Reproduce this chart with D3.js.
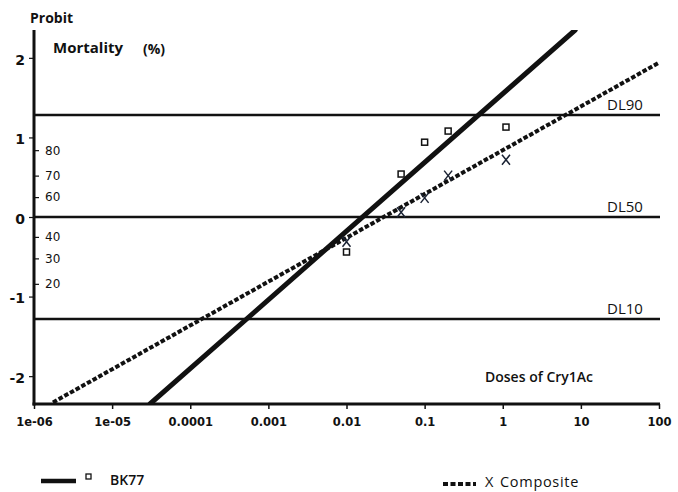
<!DOCTYPE html>
<html>
<head>
<meta charset="utf-8">
<script src="https://cdn.jsdelivr.net/npm/d3@7"></script>
<style>
  body { margin: 0; background: #fff; }
  svg { display: block; }
</style>
</head>
<body>
<div id="chart"></div>
<script>
// probit regression of mortality vs dose of Cry1Ac
const doses = [0.01, 0.05, 0.1, 0.2, 1.1]
const bk77Probit = [-0.44, 0.54, 0.94, 1.08, 1.13]
const compositeProbit = [-0.31, 0.06, 0.24, 0.52, 0.72]

// fitted lines, as [dose, probit] end points
const bk77Line = [[3.05e-5, -2.35], [8.45, 2.35]]
const compositeLine = [[1.75e-6, -2.33], [100, 1.94]]

const xTicks = [1e-6, 1e-5, 1e-4, 1e-3, 1e-2, 1e-1, 1, 10, 100]
const xTickLabels = ['1e-06', '1e-05', '0.0001', '0.001', '0.01', '0.1', '1', '10', '100']
const yTicks = [-2, -1, 0, 1, 2]
const pctLabels = ['20', '30', '40', '60', '70', '80']
const pctProbit = [-0.84, -0.52, -0.25, 0.25, 0.52, 0.84]
const dlNames = ['DL90', 'DL50', 'DL10']
const dlProbit = [1.2816, 0, -1.2816]

const W = 678, H = 492
const ink = '#111'

const svg = d3.select('#chart').append('svg')
  .attr('width', W).attr('height', H)

const x = d3.scaleLog().domain([1e-6, 100]).range([34, 659])
const y = d3.scaleLinear().domain([-2.35, 2.35]).range([404, 30])

svg.append('clipPath').attr('id', 'plot')
  .append('rect')
  .attr('x', x.range()[0]).attr('y', y.range()[1])
  .attr('width', x.range()[1] - x.range()[0] + 2)
  .attr('height', y.range()[0] - y.range()[1])

// DL reference lines
svg.selectAll('.dl')
  .data(dlProbit)
  .enter()
  .append('line')
  .attr('x1', x.range()[0]).attr('x2', 660)
  .attr('y1', (d) => y(d)).attr('y2', (d) => y(d))
  .attr('stroke', ink).attr('stroke-width', 2.6)

svg.selectAll('.dlLabel')
  .data(dlNames)
  .enter()
  .append('text')
  .attr('x', 607)
  .attr('y', (d, i) => y(dlProbit[i]) - 5)
  .attr('font-family', 'Open Sans')
  .attr('font-size', 15)
  .attr('fill', ink)
  .text((d) => d)

// regression lines
const line = d3.line().x((d) => x(d[0])).y((d) => y(d[1]))
const lines = svg.append('g').attr('clip-path', 'url(#plot)')
lines.append('path')
  .attr('d', line(bk77Line))
  .attr('fill', 'none').attr('stroke', ink).attr('stroke-width', 5)
  .attr('stroke-linecap', 'round')
lines.append('path')
  .attr('d', line(compositeLine))
  .attr('fill', 'none').attr('stroke', ink).attr('stroke-width', 4)
  .attr('stroke-dasharray', '4.5,2')

// markers
svg.selectAll('.sq')
  .data(doses)
  .enter()
  .append('rect')
  .attr('x', (d) => x(d) - 3)
  .attr('y', (d, i) => y(bk77Probit[i]) - 3)
  .attr('width', 6).attr('height', 6)
  .attr('fill', 'none').attr('stroke', ink).attr('stroke-width', 1.5)

svg.selectAll('.xm')
  .data(doses)
  .enter()
  .append('path')
  .attr('d', (d, i) => {
    const cx = x(d), cy = y(compositeProbit[i])
    return `M${cx - 4},${cy - 5}L${cx + 4},${cy + 5}M${cx + 4},${cy - 5}L${cx - 4},${cy + 5}`
  })
  .attr('fill', 'none').attr('stroke', '#1a2233').attr('stroke-width', 1.5)

// axes
const xAxis = svg.append('g')
  .attr('transform', `translate(0,${y.range()[0]})`)
  .call(d3.axisBottom(x).tickValues(xTicks).tickSize(5).tickSizeOuter(0)
    .tickPadding(9).tickFormat((d, i) => xTickLabels[i]))
xAxis.select('.domain').attr('stroke', ink).attr('stroke-width', 3)
  .attr('d', `M${x.range()[0] - 1.5},0H${x.range()[1] + 1}`)
xAxis.selectAll('.tick line').attr('stroke', ink).attr('stroke-width', 1.5)
xAxis.selectAll('text')
  .attr('font-family', 'DejaVu Sans').attr('font-weight', 'bold')
  .attr('font-size', 11.5).attr('fill', ink)

const yAxis = svg.append('g')
  .attr('transform', `translate(${x.range()[0]},0)`)
  .call(d3.axisLeft(y).tickValues(yTicks).tickSize(5).tickSizeOuter(0)
    .tickPadding(4).tickFormat(d3.format('d')))
yAxis.select('.domain').attr('stroke', ink).attr('stroke-width', 3)
  .attr('d', `M0,${y.range()[1]}V${y.range()[0] + 1.5}`)
yAxis.selectAll('.tick line').attr('stroke', ink).attr('stroke-width', 1.2)
yAxis.selectAll('text')
  .attr('font-family', 'DejaVu Sans').attr('font-weight', 'bold')
  .attr('font-size', 14).attr('fill', ink).attr('dy', '0.45em')
  .text((d) => (d < 0 ? '-' + Math.abs(d) : d))

// percent mortality ticks inside the axis
const pctAxis = svg.append('g')
  .attr('transform', `translate(${x.range()[0]},0)`)
  .call(d3.axisRight(y).tickValues(pctProbit).tickSize(5).tickSizeOuter(0)
    .tickPadding(6).tickFormat((d, i) => pctLabels[i]))
pctAxis.select('.domain').remove()
pctAxis.selectAll('.tick line').attr('stroke', ink).attr('stroke-width', 1.2)
pctAxis.selectAll('text')
  .attr('font-family', 'DejaVu Sans').attr('font-size', 12).attr('fill', ink)

// titles
const label = (tx, ty, s, size, weight) =>
  svg.append('text').attr('x', tx).attr('y', ty)
    .attr('font-family', 'Open Sans').attr('font-size', size)
    .attr('font-weight', weight).attr('fill', ink).text(s)

label(30, 23, 'Probit', 14, 'bold')
label(53, 53, 'Mortality', 15, 'bold')
label(143, 54, '(%)', 14, 'bold')
label(485, 382, 'Doses of Cry1Ac', 14, 600)

// legend
svg.append('line').attr('x1', 41).attr('x2', 76).attr('y1', 481).attr('y2', 481)
  .attr('stroke', ink).attr('stroke-width', 4.5)
svg.append('rect').attr('x', 86).attr('y', 474).attr('width', 5).attr('height', 5)
  .attr('fill', 'none').attr('stroke', ink).attr('stroke-width', 1.3)
label(110, 485, 'BK77', 14, 600)

svg.append('line').attr('x1', 443).attr('x2', 476).attr('y1', 484).attr('y2', 484)
  .attr('stroke', ink).attr('stroke-width', 4).attr('stroke-dasharray', '5,2.5')
label(485, 487, 'X', 14.5, 'normal')
label(500, 487, 'Composite', 14.5, 'normal').attr('letter-spacing', 0.7)
</script>
</body>
</html>
